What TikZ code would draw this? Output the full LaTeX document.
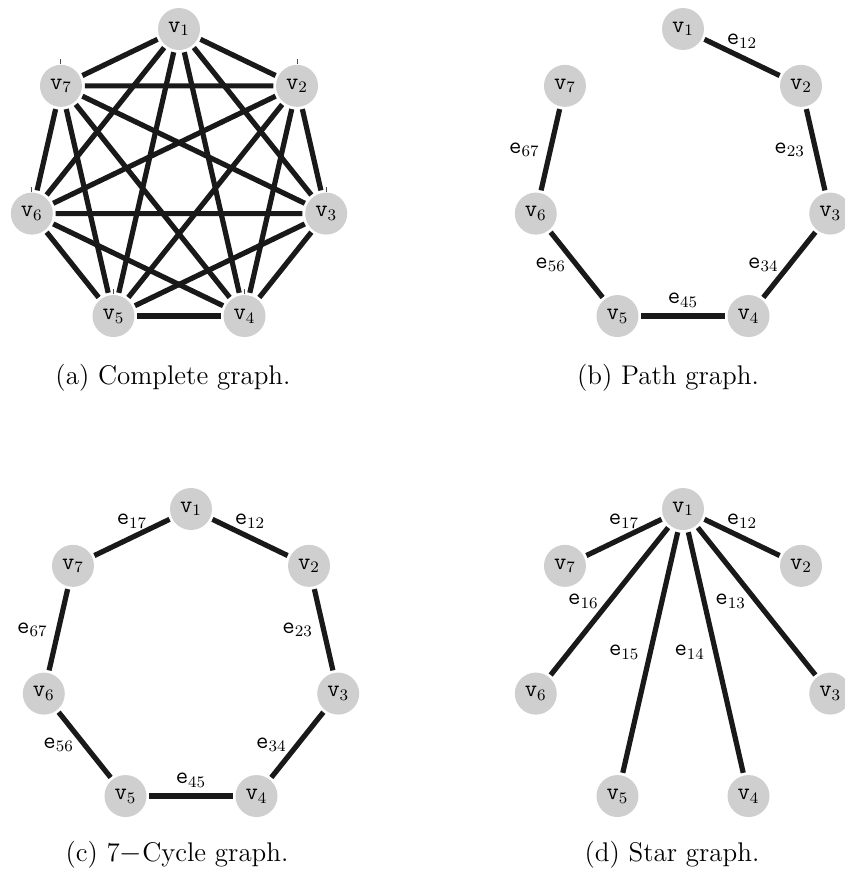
\documentclass[tikz,border=0pt]{standalone}
\definecolor{nodegray}{RGB}{207,207,207}
\definecolor{edgeblack}{RGB}{25,25,25}
\tikzset{
  vtx/.style={circle, fill=nodegray, minimum size=21pt, inner sep=0pt, outer sep=1.4pt, font=\fontsize{12}{14}\selectfont},
  edg/.style={line width=2.6pt, draw=edgeblack},
  elab/.style={font=\fontsize{12}{14}\selectfont, inner sep=0pt},
  abv/.style={yshift=8pt},
  lft/.style={xshift=-13pt},
  captxt/.style={font=\fontsize{13.5}{16}\selectfont, anchor=base, inner sep=0pt},
  tickline/.style={line width=0.5pt, draw=black!70},
}
\begin{document}
\begin{tikzpicture}[x=0.5pt, y=-0.5pt]
\useasboundingbox (0,0) rectangle (845,873);
% ---------------- (a) complete graph
\begin{scope}[shift={(179,180)}]
  \foreach \k in {1,...,7}
    \node[vtx] (a\k) at ({(\k-1)*360/7-90}:151) {$\mathtt{v}_{\k}$};
\end{scope}
\foreach \i/\j in {1/2,1/3,1/4,1/5,1/6,1/7,2/3,2/4,2/5,2/6,2/7,3/4,3/5,3/6,3/7,4/5,4/6,4/7,5/6,5/7,6/7}
  \draw[edg] (a\i) -- (a\j);
\foreach \k in {2,3,4,5,6,7}
  \draw[tickline] (a\k.center) ++(0,-22) -- ++(0,-5);
\node[captxt] (capa) at (173,384) {(a) Complete graph.};
% ---------------- (b) path graph
\begin{scope}[shift={(683,180)}]
  \foreach \k in {1,...,7}
    \node[vtx] (b\k) at ({(\k-1)*360/7-90}:151) {$\mathtt{v}_{\k}$};
\end{scope}
\draw[edg] (b1) -- node[elab, abv] {$\mathtt{e}_{12}$} (b2);
\draw[edg] (b2) -- node[elab, lft] {$\mathtt{e}_{23}$} (b3);
\draw[edg] (b3) -- node[elab, lft] {$\mathtt{e}_{34}$} (b4);
\draw[edg] (b4) -- node[elab, abv] {$\mathtt{e}_{45}$} (b5);
\draw[edg] (b5) -- node[elab, lft] {$\mathtt{e}_{56}$} (b6);
\draw[edg] (b6) -- node[elab, lft] {$\mathtt{e}_{67}$} (b7);
\node[captxt] (capb) at (668,384) {(b) Path graph.};
% ---------------- (c) cycle graph
\begin{scope}[shift={(191,660)}]
  \foreach \k in {1,...,7}
    \node[vtx] (c\k) at ({(\k-1)*360/7-90}:151) {$\mathtt{v}_{\k}$};
\end{scope}
\draw[edg] (c1) -- node[elab, abv] {$\mathtt{e}_{12}$} (c2);
\draw[edg] (c2) -- node[elab, lft] {$\mathtt{e}_{23}$} (c3);
\draw[edg] (c3) -- node[elab, lft] {$\mathtt{e}_{34}$} (c4);
\draw[edg] (c4) -- node[elab, abv] {$\mathtt{e}_{45}$} (c5);
\draw[edg] (c5) -- node[elab, lft] {$\mathtt{e}_{56}$} (c6);
\draw[edg] (c6) -- node[elab, lft] {$\mathtt{e}_{67}$} (c7);
\draw[edg] (c7) -- node[elab, abv] {$\mathtt{e}_{17}$} (c1);
\node[captxt] (capc) at (177,861) {(c) 7$-$Cycle graph.};
% ---------------- (d) star graph
\begin{scope}[shift={(683,660)}]
  \foreach \k in {1,...,7}
    \node[vtx] (d\k) at ({(\k-1)*360/7-90}:151) {$\mathtt{v}_{\k}$};
\end{scope}
\draw[edg] (d1) -- node[elab, abv] {$\mathtt{e}_{12}$} (d2);
\draw[edg] (d1) -- node[elab, lft] {$\mathtt{e}_{13}$} (d3);
\draw[edg] (d1) -- node[elab, lft] {$\mathtt{e}_{14}$} (d4);
\draw[edg] (d1) -- node[elab, lft] {$\mathtt{e}_{15}$} (d5);
\draw[edg] (d1) -- node[elab, lft] {$\mathtt{e}_{16}$} (d6);
\draw[edg] (d1) -- node[elab, abv] {$\mathtt{e}_{17}$} (d7);
\node[captxt] (capd) at (672,861) {(d) Star graph.};
\end{tikzpicture}
\end{document}
